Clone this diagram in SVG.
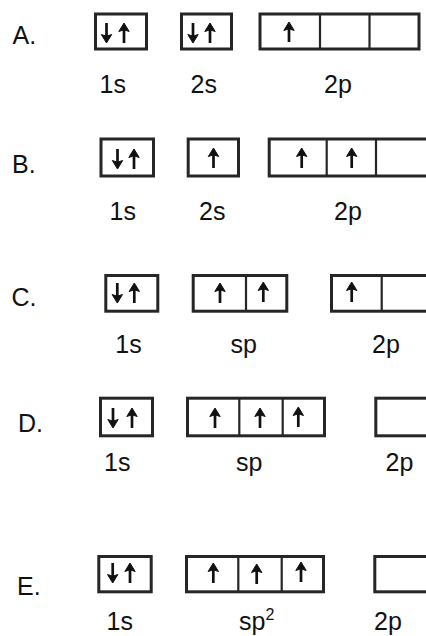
<svg xmlns="http://www.w3.org/2000/svg" xmlns:xlink="http://www.w3.org/1999/xlink" width="426" height="636" viewBox="0 0 426 636">
<style>
.box{fill:#fff;stroke:#262626;stroke-width:3}
.div{stroke:#262626;stroke-width:2.2}
.lbl{font-family:"Liberation Sans",Arial,sans-serif;font-size:25px;fill:#111}
.sup{font-family:"Liberation Sans",Arial,sans-serif;font-size:16px;fill:#111}
</style>
<defs>
<g id="up">
<line x1="0" y1="5" x2="0" y2="20" stroke="#111" stroke-width="2.7"/>
<path d="M0,0 L-5.2,8.5 L0,6.8 L5.2,8.5 Z" fill="#111" stroke="#111" stroke-width="1" stroke-linejoin="round"/>
</g>
<g id="down">
<use xlink:href="#up" transform="rotate(180 0 10)"/>
</g>
</defs>
<rect width="426" height="636" fill="#fff"/>

<g id="rowA">
<text class="lbl" x="12.5" y="44.3">A.</text>
<g id="A-1s">
<rect class="box" x="95.5" y="14" width="51" height="35"/>
<use xlink:href="#down" x="106.5" y="23"/>
<use xlink:href="#up" x="124" y="23"/>
<text class="lbl" x="99.5" y="93">1s</text>
</g>
<g id="A-2s">
<rect class="box" x="181.5" y="14" width="50" height="35"/>
<use xlink:href="#down" x="193" y="23"/>
<use xlink:href="#up" x="210" y="23"/>
<text class="lbl" x="190.5" y="93">2s</text>
</g>
<g id="A-2p">
<rect class="box" x="260" y="14" width="159" height="35"/>
<line class="div" x1="320" y1="14" x2="320" y2="49"/>
<line class="div" x1="369.5" y1="14" x2="369.5" y2="49"/>
<use xlink:href="#up" x="289" y="22"/>
<text class="lbl" x="324" y="93">2p</text>
</g>
</g>

<g id="rowB">
<text class="lbl" x="12" y="173.3">B.</text>
<g id="B-1s">
<rect class="box" x="101" y="139" width="52.5" height="37"/>
<use xlink:href="#down" x="117.5" y="149"/>
<use xlink:href="#up" x="134" y="149"/>
<text class="lbl" x="109.5" y="220">1s</text>
</g>
<g id="B-2s">
<rect class="box" x="188.2" y="139" width="50.3" height="37"/>
<use xlink:href="#up" x="213.5" y="148"/>
<text class="lbl" x="199" y="220">2s</text>
</g>
<g id="B-2p">
<rect class="box" x="269.2" y="139" width="170" height="37"/>
<line class="div" x1="326.7" y1="139" x2="326.7" y2="176"/>
<line class="div" x1="376" y1="139" x2="376" y2="176"/>
<use xlink:href="#up" x="301.7" y="148"/>
<use xlink:href="#up" x="351.7" y="148"/>
<text class="lbl" x="334" y="220">2p</text>
</g>
</g>

<g id="rowC">
<text class="lbl" x="11.5" y="306">C.</text>
<g id="C-1s">
<rect class="box" x="105.8" y="275.5" width="52" height="35.7"/>
<use xlink:href="#down" x="117.3" y="283"/>
<use xlink:href="#up" x="134.3" y="283"/>
<text class="lbl" x="115.3" y="353.3">1s</text>
</g>
<g id="C-sp">
<rect class="box" x="193.2" y="275.5" width="93.6" height="35.7"/>
<line class="div" x1="246" y1="275.5" x2="246" y2="311.2"/>
<use xlink:href="#up" x="220" y="283"/>
<use xlink:href="#up" x="263.3" y="282"/>
<text class="lbl" x="230.5" y="353.3">sp</text>
</g>
<g id="C-2p">
<rect class="box" x="331.5" y="275.5" width="110" height="35.7"/>
<line class="div" x1="381.7" y1="275.5" x2="381.7" y2="311.2"/>
<use xlink:href="#up" x="351.7" y="282"/>
<text class="lbl" x="372" y="353.3">2p</text>
</g>
</g>

<g id="rowD">
<text class="lbl" x="18" y="431.7">D.</text>
<g id="D-1s">
<rect class="box" x="100.5" y="398.2" width="52" height="37.6"/>
<use xlink:href="#down" x="113" y="408"/>
<use xlink:href="#up" x="132" y="408"/>
<text class="lbl" x="104" y="470.7">1s</text>
</g>
<g id="D-sp">
<rect class="box" x="187.5" y="398.2" width="137" height="37.6"/>
<line class="div" x1="239.3" y1="398.2" x2="239.3" y2="435.8"/>
<line class="div" x1="282.7" y1="398.2" x2="282.7" y2="435.8"/>
<use xlink:href="#up" x="215" y="408"/>
<use xlink:href="#up" x="260" y="408"/>
<use xlink:href="#up" x="298.3" y="407"/>
<text class="lbl" x="236" y="470.7">sp</text>
</g>
<g id="D-2p">
<rect class="box" x="375.8" y="398.2" width="60" height="37.6"/>
<text class="lbl" x="385.5" y="470.7">2p</text>
</g>
</g>

<g id="rowE">
<text class="lbl" x="17" y="595">E.</text>
<g id="E-1s">
<rect class="box" x="98.8" y="556.5" width="52.4" height="35.3"/>
<use xlink:href="#down" x="112.7" y="563"/>
<use xlink:href="#up" x="130" y="563"/>
<text class="lbl" x="106.5" y="630">1s</text>
</g>
<g id="E-sp2">
<rect class="box" x="186.5" y="556.5" width="137" height="35.3"/>
<line class="div" x1="238.3" y1="556.5" x2="238.3" y2="591.8"/>
<line class="div" x1="281.7" y1="556.5" x2="281.7" y2="591.8"/>
<use xlink:href="#up" x="213.3" y="563"/>
<use xlink:href="#up" x="256.7" y="564"/>
<use xlink:href="#up" x="301" y="562"/>
<text class="lbl" x="239" y="630">sp<tspan class="sup" dy="-10">2</tspan></text>
</g>
<g id="E-2p">
<rect class="box" x="374.8" y="556.5" width="60" height="35.3"/>
<text class="lbl" x="374" y="630">2p</text>
</g>
</g>
</svg>
